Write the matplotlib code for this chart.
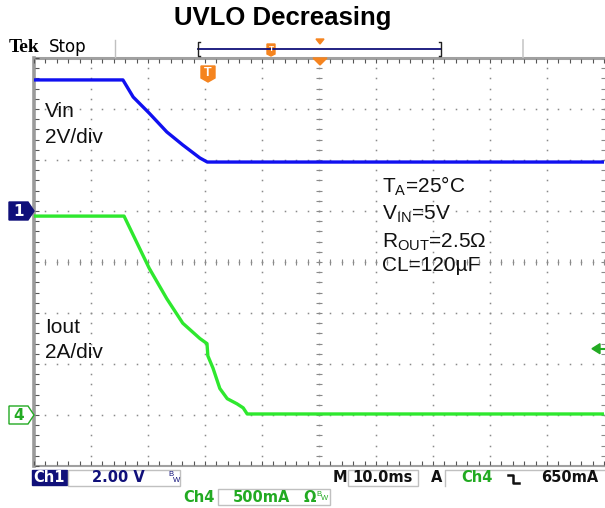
"""
Scope capture: UVLO decreasing, Vin (ch1) and Iout (ch4) against time.
"""
import numpy as np
import matplotlib
matplotlib.use("Agg")
import matplotlib.pyplot as plt
from matplotlib.patches import Polygon, Rectangle

plt.rcParams["font.family"] = ["Liberation Sans", "DejaVu Sans"]
plt.rcParams["mathtext.fontset"] = "custom"
plt.rcParams["mathtext.rm"] = "Liberation Sans"

# time in ms, 10 ms/div, 10 divisions on screen
vin_t = [0, 15.6, 17.4, 20.2, 23.3, 26.1, 29.1, 30.4, 100]
vin_v = [5.14, 5.14, 4.47, 3.84, 3.10, 2.59, 2.08, 1.92, 1.92]

iout_t = [0, 15.8, 20.2, 23.3, 26.1, 29.1, 30.35, 30.5, 31.4, 32.6, 33.9, 35.6,
          36.7, 37.4, 100]
iout_a = [1.95, 1.95, 1.44, 1.14, 0.90, 0.75, 0.70, 0.58, 0.46, 0.26, 0.16, 0.11,
          0.07, 0.01, 0.01]

VIN_SCALE = 2.0      # V/div
VIN_OFFSET = 1.0     # div above centre
IOUT_SCALE = 0.5     # A/div
IOUT_OFFSET = -3.0   # div
TRIG_LEVEL = 0.65    # A

W, H = 605, 508
BLUE = "#1010f0"
GREEN = "#2ee82e"
ORANGE = "#f5841f"
NAVY = "#10107a"
GRID = "#8a8a8a"

fig = plt.figure(figsize=(W / 100, H / 100), dpi=100)
fig.patch.set_facecolor("white")

# screen area in pixels: x 34..604, y 58..466
ax = fig.add_axes([34 / W, 1 - 466 / H, 570 / W, 408 / H])
ax.set_xlim(0, 100)
ax.set_ylim(-4, 4)
ax.axis("off")

# graticule
yy = np.arange(-4, 4.001, 0.2)
tt = np.arange(0, 100.001, 2)
for t in range(10, 100, 10):
    ax.plot([t] * len(yy), yy, ls="none", marker="s", ms=1.1, mew=0, color=GRID)
for y in range(-3, 4):
    ax.plot(tt, [y] * len(tt), ls="none", marker="s", ms=1.1, mew=0, color=GRID)
ax.plot([50] * len(yy), yy, ls="none", marker="_", ms=4, mew=0.8, color=GRID)
ax.plot(tt, [0] * len(tt), ls="none", marker="|", ms=4, mew=0.8, color=GRID)
ax.plot([100] * len(yy), yy, ls="none", marker="_", ms=4, mew=0.8, color=GRID,
        clip_on=False)
# frame edges
ax.plot([0, 100], [4, 4], color="#a0a0a0", lw=2.2, clip_on=False)
ax.plot([0, 100], [-4, -4], color="#a0a0a0", lw=1.5, clip_on=False)
ax.plot([0, 0], [-4, 4], color="#9a9a9a", lw=2.6, clip_on=False)
ax.plot(tt, [3.94] * len(tt), ls="none", marker="|", ms=3, mew=0.8, color="#555555",
        clip_on=False)
ax.plot(tt, [-3.94] * len(tt), ls="none", marker="|", ms=3, mew=0.8, color="#555555",
        clip_on=False)
ax.plot([0.6] * len(yy), yy, ls="none", marker="_", ms=3, mew=0.8, color="#555555",
        clip_on=False)

# traces
vin_div = np.array(vin_v) / VIN_SCALE + VIN_OFFSET
iout_div = np.array(iout_a) / IOUT_SCALE + IOUT_OFFSET
ax.plot(vin_t, vin_div, color=BLUE, lw=2.4, solid_joinstyle="round", zorder=5)
ax.plot(iout_t, iout_div, color=GREEN, lw=2.4, solid_joinstyle="round", zorder=5)

# overlay in pixel coordinates
ov = fig.add_axes([0, 0, 1, 1], zorder=10)
ov.set_xlim(0, W)
ov.set_ylim(H, 0)
ov.axis("off")
ov.patch.set_alpha(0)

ov.text(283, 18, "UVLO Decreasing", ha="center", va="center", fontsize=18.5,
        fontweight="bold")

# top status bar
ov.text(9, 48, "Tek", ha="left", va="center", fontsize=14, fontweight="bold",
        family="Liberation Serif")
ov.text(49, 47, "Stop", ha="left", va="center", fontsize=12, family="DejaVu Sans")
ov.plot([115, 115], [40, 57], color="#c0c0c0", lw=1)
ov.plot([523, 523], [40, 57], color="#c8c8c8", lw=1.2)
ov.plot([198, 441], [49, 49], color=NAVY, lw=1.3)
ov.plot([200, 198, 198, 200], [42, 42, 56, 56], color="#202020", lw=1)
ov.plot([439, 441, 441, 439], [42, 42, 56, 56], color="#202020", lw=1)
ov.add_patch(Polygon([(267, 44), (275, 44), (275, 54), (271, 56), (267, 54)],
                     closed=True, color=ORANGE))
ov.text(271, 49.5, "T", ha="center", va="center", fontsize=6, color="white",
        fontweight="bold")
ov.add_patch(Polygon([(316, 39), (324, 39), (320, 44)], closed=True, color=ORANGE))

# trigger markers on screen
ov.add_patch(Polygon([(313, 58), (327, 58), (320, 65)], closed=True, color=ORANGE))
ov.add_patch(Polygon([(201, 66), (215, 66), (215, 78), (208, 82), (201, 78)],
                     closed=True, color=ORANGE))
ov.text(208, 73, "T", ha="center", va="center", fontsize=9, color="white",
        fontweight="bold")
trig_y = 262 - (TRIG_LEVEL / IOUT_SCALE + IOUT_OFFSET) * 51
ov.add_patch(Polygon([(592, trig_y), (600, trig_y - 5), (600, trig_y + 5)],
                     closed=True, color="#22aa22"))
ov.plot([600, 605], [trig_y, trig_y], color="#22aa22", lw=1.5)

# channel ground markers
g1 = 262 - VIN_OFFSET * 51
ov.add_patch(Polygon([(9, g1 - 9), (28, g1 - 9), (34, g1), (28, g1 + 9), (9, g1 + 9)],
                     closed=True, color=NAVY))
ov.text(18.5, g1, "1", ha="center", va="center", fontsize=11, color="white",
        fontweight="bold", family="DejaVu Sans")
g4 = 262 - IOUT_OFFSET * 51
ov.add_patch(Polygon([(9, g4 - 9), (28, g4 - 9), (34, g4), (28, g4 + 9), (9, g4 + 9)],
                     closed=True, facecolor="white", edgecolor="#22aa22", lw=1))
ov.text(18.5, g4, "4", ha="center", va="center", fontsize=11, color="#22aa22",
        fontweight="bold", family="DejaVu Sans")

# channel labels
lab = dict(ha="left", va="baseline", fontsize=15, color="#111111")
ov.text(45, 117, "Vin", **lab)
ov.text(45, 143, "2V/div", **lab)
ov.text(45, 333, "Iout", **lab)
ov.text(45, 358, "2A/div", **lab)
ov.text(382, 192, r"T$_\mathrm{A}$=25°C", **lab)
ov.text(382, 219, r"V$_\mathrm{IN}$=5V", **lab)
ov.text(382, 247, r"R$_\mathrm{OUT}$=2.5Ω", **lab)
ov.text(382, 271, "CL=120µF", **lab)

# bottom status line
st = dict(va="center", fontsize=10.5, family="DejaVu Sans", fontweight="bold")
ov.add_patch(Rectangle((32, 470), 35, 15, color=NAVY))
ov.text(49.5, 478, "Ch1", ha="center", color="white", **st)
ov.add_patch(Rectangle((68, 470), 112, 16, facecolor="white", edgecolor="#c0c0c0", lw=1))
ov.text(118, 478, "2.00 V", ha="center", color=NAVY, **st)
ov.text(168, 475, "B", ha="left", va="center", fontsize=5.5, color=NAVY)
ov.text(173, 480, "W", ha="left", va="center", fontsize=5.5, color=NAVY)

ov.text(199, 497, "Ch4", ha="center", color="#22aa22", **st)
ov.add_patch(Rectangle((218, 489), 112, 16, facecolor="white", edgecolor="#c0c0c0", lw=1))
ov.text(262, 497, "500mA", ha="center", color="#22aa22", **st)
ov.text(304, 497, "Ω", ha="left", color="#22aa22", **st)
ov.text(316, 494, "B", ha="left", va="center", fontsize=5.5, color="#22aa22")
ov.text(321, 499, "W", ha="left", va="center", fontsize=5.5, color="#22aa22")

ov.text(340, 478, "M", ha="center", color="#111111", **st)
ov.add_patch(Rectangle((348, 470), 70, 16, facecolor="white", edgecolor="#c0c0c0", lw=1))
ov.text(383, 478, "10.0ms", ha="center", color="#111111", **st)
ov.text(437, 478, "A", ha="center", color="#111111", **st)
ov.plot([445, 445, 605], [486, 470, 470], color="#c0c0c0", lw=1)
ov.text(477, 478, "Ch4", ha="center", color="#22aa22", **st)
ov.plot([508, 513, 513, 519], [475, 475, 483, 483], color="#111111", lw=1.8)
ov.text(570, 478, "650mA", ha="center", color="#111111", **st)

fig.savefig("out.png", dpi=100)
